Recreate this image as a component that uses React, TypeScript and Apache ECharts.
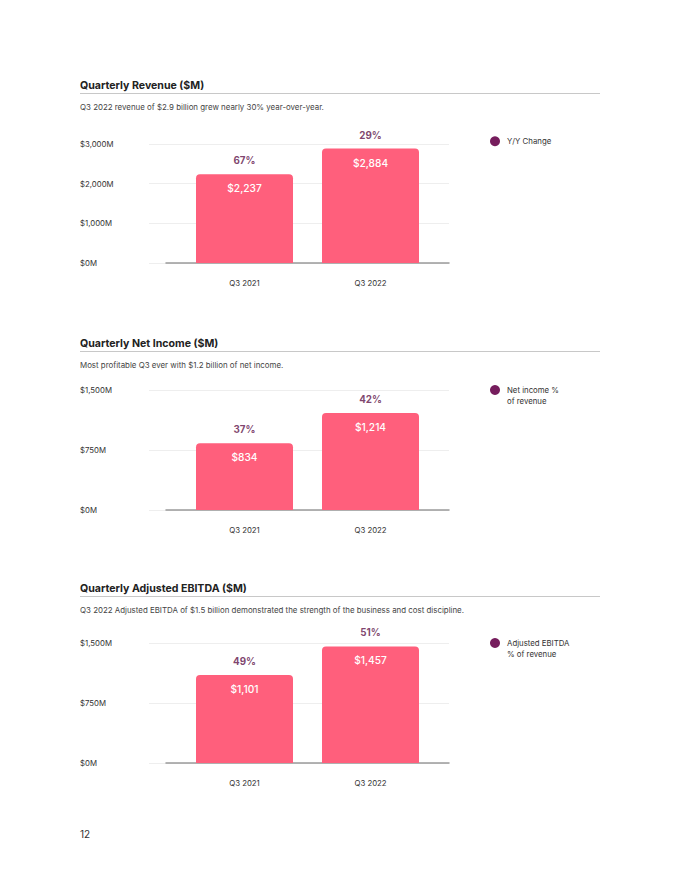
import React, { useEffect, useRef } from "react";
import * as echarts from "echarts";

// Quarterly figures, $M
const quarters = ["Q3 2021", "Q3 2022"];
const revenue = [2237, 2884];
const revenueYoY = ["67%", "29%"];
const netIncome = [834, 1214];
const netIncomeMargin = ["37%", "42%"];
const ebitda = [1101, 1457];
const ebitdaMargin = ["49%", "51%"];

const revenueTicks = { max: 3000, interval: 1000 };
const incomeTicks = { max: 1500, interval: 750 };
const ebitdaTicks = { max: 1500, interval: 750 };

const FONT = "Inter, 'Noto Sans', sans-serif";
const BAR = "#ff5f7c";
const PLUM = "#5e1249";

type Panel = {
  title: string;
  subtitle: string;
  values: number[];
  pcts: string[];
  pctName: string;
  ticks: { max: number; interval: number };
  titleY: number;
  plotTop: number;
  plotHeight: number;
};

const panels: Panel[] = [
  {
    title: "Quarterly Revenue ($M)",
    subtitle: "Q3 2022 revenue of $2.9 billion grew nearly 30% year-over-year.",
    values: revenue,
    pcts: revenueYoY,
    pctName: "Y/Y Change",
    ticks: revenueTicks,
    titleY: 85,
    plotTop: 144,
    plotHeight: 119,
  },
  {
    title: "Quarterly Net Income ($M)",
    subtitle: "Most profitable Q3 ever with $1.2 billion of net income.",
    values: netIncome,
    pcts: netIncomeMargin,
    pctName: "Net income %\nof revenue",
    ticks: incomeTicks,
    titleY: 343,
    plotTop: 390,
    plotHeight: 120,
  },
  {
    title: "Quarterly Adjusted EBITDA ($M)",
    subtitle:
      "Q3 2022 Adjusted EBITDA of $1.5 billion demonstrated the strength of the business and cost discipline.",
    values: ebitda,
    pcts: ebitdaMargin,
    pctName: "Adjusted EBITDA\n% of revenue",
    ticks: ebitdaTicks,
    titleY: 588,
    plotTop: 643,
    plotHeight: 120,
  },
];

function buildOption() {
  const grid: any[] = [];
  const xAxis: any[] = [];
  const yAxis: any[] = [];
  const series: any[] = [];
  const legend: any[] = [];
  const graphic: any[] = [];

  panels.forEach((p, i) => {
    const g0 = i * 3; // gridlines + y labels
    const g1 = i * 3 + 1; // baseline
    const g2 = i * 3 + 2; // bars
    const vert = { top: p.plotTop, height: p.plotHeight };

    grid.push({ left: 149, width: 300, ...vert });
    grid.push({ left: 166, width: 283, ...vert });
    grid.push({ left: 181.5, width: 252, ...vert });

    // gridlines and value labels
    xAxis.push({ type: "category", gridIndex: g0, data: quarters, show: false });
    yAxis.push({
      type: "value",
      gridIndex: g0,
      min: 0,
      max: p.ticks.max,
      interval: p.ticks.interval,
      axisLine: { show: false },
      axisTick: { show: false },
      splitLine: { lineStyle: { color: "#eeeeee", width: 1 } },
      axisLabel: {
        align: "left",
        margin: 69,
        color: "#333",
        fontFamily: FONT,
        fontSize: 7.8,
        formatter: (v: number) => `$${v.toLocaleString("en-US")}M`,
      },
    });

    // baseline
    xAxis.push({
      type: "category",
      gridIndex: g1,
      data: quarters,
      axisLine: { show: true, lineStyle: { color: "#9a9a9a", width: 1.5 } },
      axisTick: { show: false },
      axisLabel: { show: false },
    });
    yAxis.push({ type: "value", gridIndex: g1, min: 0, max: p.ticks.max, show: false });

    // bars
    xAxis.push({
      type: "category",
      gridIndex: g2,
      data: quarters,
      axisLine: { show: false },
      axisTick: { show: false },
      axisLabel: { color: "#333", fontFamily: FONT, fontSize: 7.8, margin: 16 },
    });
    yAxis.push({
      type: "value",
      gridIndex: g2,
      min: 0,
      max: p.ticks.max,
      show: false,
      splitLine: { show: false },
    });

    series.push({
      type: "bar",
      name: p.title,
      xAxisIndex: g2,
      yAxisIndex: g2,
      data: p.values,
      barWidth: 97,
      itemStyle: { color: BAR, borderRadius: [4, 4, 0, 0] },
      label: {
        show: true,
        position: "insideTop",
        distance: 9,
        color: "#fff",
        fontFamily: FONT,
        fontSize: 10.2,
        fontWeight: 500,
        formatter: (d: any) => `$${Number(d.value).toLocaleString("en-US")}`,
      },
    });

    series.push({
      type: "scatter",
      name: p.pctName,
      xAxisIndex: g2,
      yAxisIndex: g2,
      data: p.values,
      symbolSize: 1,
      itemStyle: { color: "rgba(0,0,0,0)" },
      label: {
        show: true,
        position: "top",
        distance: 8,
        color: PLUM,
        fontFamily: FONT,
        fontSize: 9.8,
        fontWeight: "bold",
        formatter: (d: any) => p.pcts[d.dataIndex],
      },
    });

    // Two-line legend names get a leading empty line so the first line sits level with the dot
    const twoLine = p.pctName.includes("\n");
    legend.push({
      data: [p.pctName],
      left: 490,
      top: twoLine ? p.plotTop - 15.75 : p.plotTop - 8,
      padding: 0,
      icon: "circle",
      itemWidth: 10,
      itemHeight: 10,
      itemGap: 0,
      selectedMode: false,
      itemStyle: { color: "#761d5d", opacity: 1 },
      formatter: (name: string) => (twoLine ? `\n${name}` : name),
      textStyle: {
        color: "#333",
        fontFamily: FONT,
        fontSize: 7.8,
        lineHeight: 10.5,
        padding: [0, 0, 0, 2],
      },
    });

    graphic.push(
      {
        type: "text",
        left: 80,
        top: p.titleY - 5,
        style: {
          text: p.title,
          fill: "#222",
          font: `bold 10.6px ${FONT}`,
        },
      },
      {
        type: "line",
        shape: { x1: 80, y1: p.titleY + 8.5, x2: 600, y2: p.titleY + 8.5 },
        style: { stroke: "#c8c8c8", lineWidth: 1 },
      },
      {
        type: "text",
        left: 80,
        top: p.titleY + 17.5,
        style: { text: p.subtitle, fill: "#444", font: `7.9px ${FONT}` },
      }
    );
  });

  graphic.push({
    type: "text",
    left: 80,
    top: 829,
    style: { text: "12", fill: "#333", font: `10px ${FONT}` },
  });

  return {
    animation: false,
    backgroundColor: "#ffffff",
    grid,
    xAxis,
    yAxis,
    series,
    legend,
    graphic,
  };
}

export default function App() {
  const ref = useRef<HTMLDivElement>(null);

  useEffect(() => {
    if (!ref.current) return;
    const chart = echarts.init(ref.current, undefined, { renderer: "svg" });
    chart.setOption(buildOption());
    return () => chart.dispose();
  }, []);

  return (
    <div
      ref={ref}
      style={{ position: "absolute", left: 0, top: 0, width: 680, height: 880 }}
    />
  );
}
